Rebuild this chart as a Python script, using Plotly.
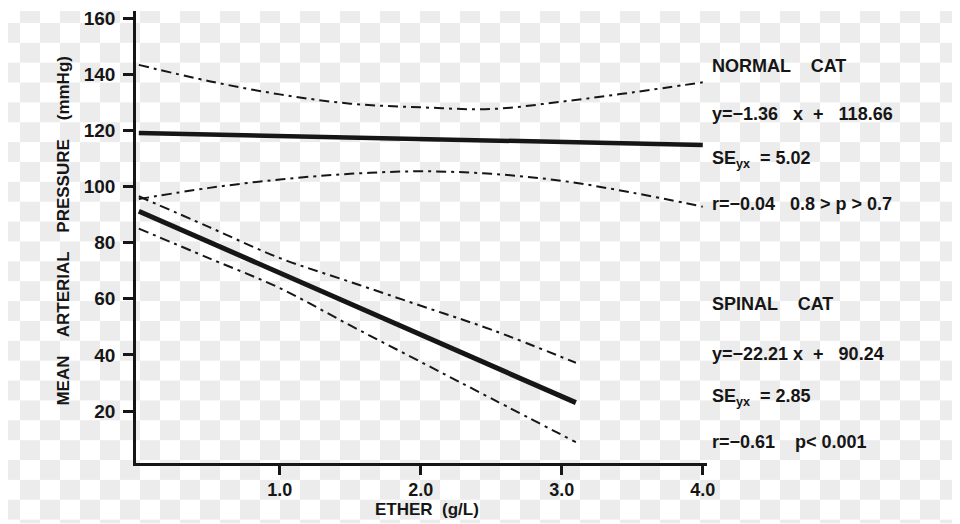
import base64
import plotly.graph_objects as go

# Regression lines and confidence bands
ether = [0, 0.5, 1.0, 1.5, 2.0, 2.5, 3.0, 3.5, 4.0]
normal_fit = [119.0, 118.5, 117.95, 117.4, 116.9, 116.4, 115.85, 115.3, 114.8]
normal_upper = [143.3, 137.5, 132.8, 129.5, 128.2, 127.6, 130.2, 133.5, 137.1]
normal_lower = [95.5, 99.5, 102.5, 104.5, 105.4, 104.5, 102.0, 97.8, 92.8]

ether_sp = [0, 0.5, 1.0, 1.5, 2.0, 2.5, 3.1]
spinal_fit = [91.2, 80.2, 69.2, 58.2, 47.2, 36.2, 23.0]
spinal_upper = [96.5, 85.5, 74.5, 66.0, 57.5, 49.0, 37.2]
spinal_lower = [85.0, 74.4, 63.8, 50.5, 37.5, 24.5, 8.9]

x_ticks = [1.0, 2.0, 3.0, 4.0]
x_ticklabels = ["1.0", "2.0", "3.0", "4.0"]
y_ticks = [20, 40, 60, 80, 100, 120, 140, 160]

normal_text = ["NORMAL    CAT", "y=−1.36   x  +   118.66",
               "SE<sub>yx</sub>  = 5.02", "r=−0.04   0.8 > p > 0.7"]
spinal_text = ["SPINAL    CAT", "y=−22.21 x  +   90.24",
               "SE<sub>yx</sub>  = 2.85", "r=−0.61    p< 0.001"]

# page has an 8px body margin, so the figure is laid out in shifted pixels
OFF = 8
W, H = 952, 516
ML, MR, MT, MB = 128, 253, 0, 61
PW, PH = W - ML - MR, H - MT - MB
INK = "#161616"
FONT = "Liberation Sans, Arial, sans-serif"


def px(x):
    return (x - OFF - ML) / PW


def py(y):
    return (H - MB - (y - OFF)) / PH


# checkerboard background (transparent-png look)
svg = (f'<svg xmlns="http://www.w3.org/2000/svg" width="{W}" height="{H}">'
       f'<defs><pattern id="c" x="{-OFF}" y="{-OFF}" width="40" height="40" patternUnits="userSpaceOnUse">'
       '<rect width="40" height="40" fill="#ffffff"/>'
       '<rect x="20" y="0" width="20" height="20" fill="#ececec"/>'
       '<rect x="0" y="20" width="20" height="20" fill="#ececec"/>'
       '</pattern></defs>'
       f'<rect width="{W}" height="{H}" fill="url(#c)"/></svg>')
bg_src = "data:image/svg+xml;base64," + base64.b64encode(svg.encode()).decode()

fig = go.Figure()
dd = "10px,5px,3px,5px"
fig.add_trace(go.Scatter(x=ether, y=normal_upper, mode="lines", line=dict(color=INK, width=2, dash=dd, shape="spline")))
fig.add_trace(go.Scatter(x=ether, y=normal_lower, mode="lines", line=dict(color=INK, width=2, dash=dd, shape="spline")))
fig.add_trace(go.Scatter(x=ether, y=normal_fit, mode="lines", line=dict(color=INK, width=4.5)))
fig.add_trace(go.Scatter(x=ether_sp, y=spinal_upper, mode="lines", line=dict(color=INK, width=2, dash=dd, shape="spline")))
fig.add_trace(go.Scatter(x=ether_sp, y=spinal_lower, mode="lines", line=dict(color=INK, width=2, dash=dd, shape="spline")))
fig.add_trace(go.Scatter(x=ether_sp, y=spinal_fit, mode="lines", line=dict(color=INK, width=5)))

annotations = []
for txt, yy in zip(normal_text, [63, 112, 157, 202]):
    annotations.append(dict(x=px(710), y=py(yy), text=txt, xanchor="left"))
for txt, yy in zip(spinal_text, [303, 353, 397, 442]):
    annotations.append(dict(x=px(710), y=py(yy), text=txt, xanchor="left"))
for a in annotations:
    a.update(xref="paper", yref="paper", yanchor="middle", showarrow=False,
             font=dict(family=FONT, size=18, color=INK, weight="bold"))

annotations.append(dict(x=px(64), y=py(230), xref="paper", yref="paper", showarrow=False,
                        xanchor="center", yanchor="middle",
                        text="MEAN    ARTERIAL    PRESSURE    (mmHg)", textangle=-90,
                        font=dict(family=FONT, size=17, color=INK, weight="bold")))
annotations.append(dict(x=px(427), y=py(510), xref="paper", yref="paper", showarrow=False,
                        xanchor="center", yanchor="middle",
                        text="ETHER  (g/L)", font=dict(family=FONT, size=17, color=INK, weight="bold")))

fig.update_layout(
    width=W, height=H,
    margin=dict(l=ML, r=MR, t=MT, b=MB),
    paper_bgcolor="white",
    plot_bgcolor="rgba(0,0,0,0)",
    showlegend=False,
    images=[dict(source=bg_src, xref="paper", yref="paper", x=-ML / PW, y=1 + MT / PH,
                 sizex=W / PW, sizey=H / PH, xanchor="left", yanchor="top",
                 sizing="stretch", layer="below")],
    annotations=annotations,
    xaxis=dict(range=[-0.02, 4.03], showgrid=False, zeroline=False, showline=True, linecolor=INK, linewidth=2.5,
               tickvals=x_ticks, ticktext=x_ticklabels, ticks="outside", ticklen=9, tickwidth=2.5, tickcolor=INK,
               ticklabelstandoff=0,
               tickfont=dict(family=FONT, size=18, color=INK, weight="bold")),
    yaxis=dict(range=[1.5, 162.5], showgrid=False, zeroline=False, showline=True, linecolor=INK, linewidth=2.5,
               tickvals=y_ticks, ticks="outside", ticklen=10, tickwidth=2.5, tickcolor=INK,
               ticklabelstandoff=4, ticklabeloverflow="allow",
               tickfont=dict(family=FONT, size=19, color=INK, weight="bold")),
)

fig.write_html("out.html")
